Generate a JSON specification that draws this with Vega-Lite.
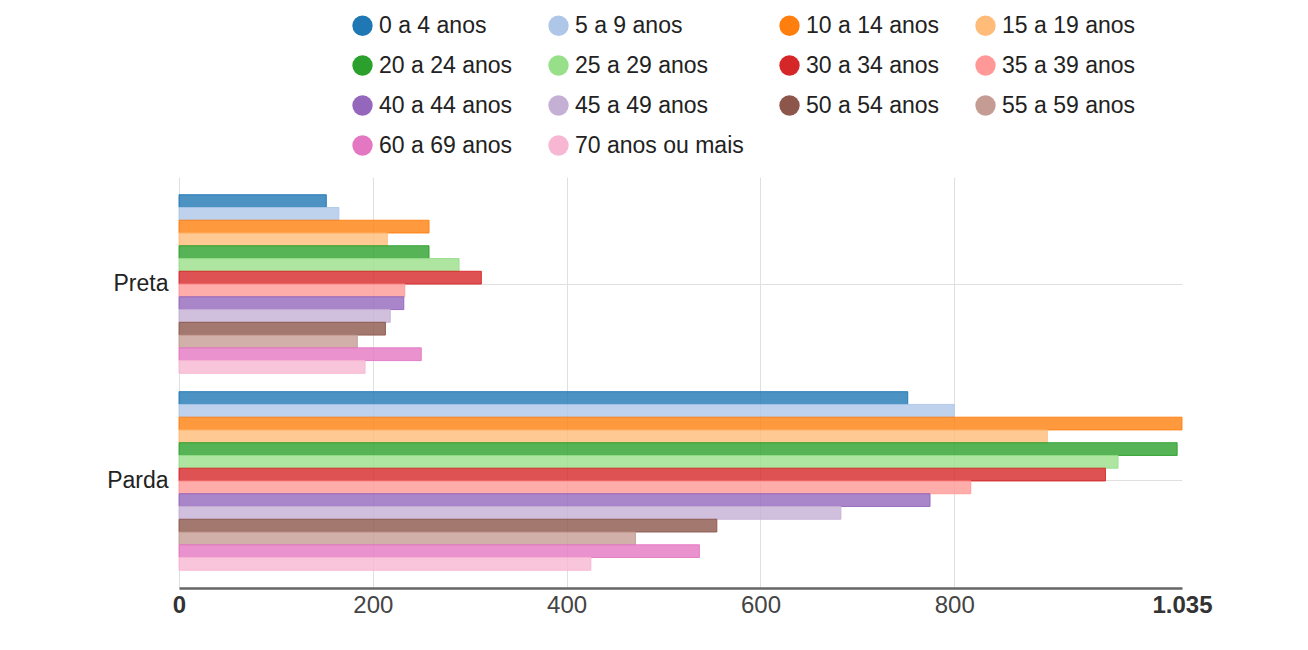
{
  "$schema": "https://vega.github.io/schema/vega-lite/v6.json",
  "width": 1003,
  "height": 411,
  "autosize": {"type": "none"},
  "padding": {"left": 179, "top": 177, "right": 126, "bottom": 62},
  "background": "white",
  "config": {"view": {"stroke": null}, "font": "Liberation Sans"},
  "data": {
    "values": [
      {"cor": "Preta", "idade": "0 a 4 anos", "valor": 152},
      {"cor": "Preta", "idade": "5 a 9 anos", "valor": 165},
      {"cor": "Preta", "idade": "10 a 14 anos", "valor": 258},
      {"cor": "Preta", "idade": "15 a 19 anos", "valor": 215},
      {"cor": "Preta", "idade": "20 a 24 anos", "valor": 258},
      {"cor": "Preta", "idade": "25 a 29 anos", "valor": 289},
      {"cor": "Preta", "idade": "30 a 34 anos", "valor": 312},
      {"cor": "Preta", "idade": "35 a 39 anos", "valor": 233},
      {"cor": "Preta", "idade": "40 a 44 anos", "valor": 232},
      {"cor": "Preta", "idade": "45 a 49 anos", "valor": 218},
      {"cor": "Preta", "idade": "50 a 54 anos", "valor": 213},
      {"cor": "Preta", "idade": "55 a 59 anos", "valor": 184},
      {"cor": "Preta", "idade": "60 a 69 anos", "valor": 250},
      {"cor": "Preta", "idade": "70 anos ou mais", "valor": 192},
      {"cor": "Parda", "idade": "0 a 4 anos", "valor": 752},
      {"cor": "Parda", "idade": "5 a 9 anos", "valor": 800},
      {"cor": "Parda", "idade": "10 a 14 anos", "valor": 1035},
      {"cor": "Parda", "idade": "15 a 19 anos", "valor": 896},
      {"cor": "Parda", "idade": "20 a 24 anos", "valor": 1030},
      {"cor": "Parda", "idade": "25 a 29 anos", "valor": 969},
      {"cor": "Parda", "idade": "30 a 34 anos", "valor": 956},
      {"cor": "Parda", "idade": "35 a 39 anos", "valor": 817},
      {"cor": "Parda", "idade": "40 a 44 anos", "valor": 775},
      {"cor": "Parda", "idade": "45 a 49 anos", "valor": 683},
      {"cor": "Parda", "idade": "50 a 54 anos", "valor": 555},
      {"cor": "Parda", "idade": "55 a 59 anos", "valor": 471},
      {"cor": "Parda", "idade": "60 a 69 anos", "valor": 537},
      {"cor": "Parda", "idade": "70 anos ou mais", "valor": 425}
    ]
  },
  "mark": {"type": "bar", "fillOpacity": 0.8, "strokeWidth": 1, "strokeOpacity": 0.9},
  "encoding": {
    "y": {
      "field": "cor",
      "type": "nominal",
      "sort": ["Preta", "Parda"],
      "scale": {"paddingInner": 0.093, "paddingOuter": 0.09},
      "axis": {
        "title": null,
        "domain": false,
        "ticks": false,
        "labelFontSize": 23,
        "labelColor": "#222222",
        "labelPadding": 11,
        "grid": true,
        "gridColor": "#e0e0e0",
        "bandPosition": 0.5
      }
    },
    "yOffset": {
      "field": "idade",
      "type": "nominal",
      "sort": ["0 a 4 anos", "5 a 9 anos", "10 a 14 anos", "15 a 19 anos", "20 a 24 anos", "25 a 29 anos", "30 a 34 anos", "35 a 39 anos", "40 a 44 anos", "45 a 49 anos", "50 a 54 anos", "55 a 59 anos", "60 a 69 anos", "70 anos ou mais"],
      "scale": {"paddingInner": 0, "paddingOuter": 0}
    },
    "x": {
      "field": "valor",
      "type": "quantitative",
      "scale": {"domain": [0, 1035], "nice": false, "zero": true},
      "axis": {
        "title": null,
        "values": [0, 200, 400, 600, 800, 1035],
        "labelExpr": "datum.value == 1035 ? '1.035' : datum.label",
        "labelFontSize": 24,
        "labelColor": {"condition": {"test": "datum.value == 0 || datum.value == 1035", "value": "#333333"}, "value": "#444444"},
        "labelFontWeight": {"condition": {"test": "datum.value == 0 || datum.value == 1035", "value": "bold"}, "value": "normal"},
        "labelPadding": 5,
        "labelBound": false,
        "labelFlush": false,
        "labelOverlap": false,
        "ticks": false,
        "domainColor": "#666666",
        "domainWidth": 2.5,
        "grid": true,
        "gridColor": {"condition": {"test": "datum.value == 1035", "value": "transparent"}, "value": "#e0e0e0"}
      }
    },
    "color": {
      "field": "idade",
      "type": "nominal",
      "scale": {
        "domain": ["0 a 4 anos", "5 a 9 anos", "10 a 14 anos", "15 a 19 anos", "20 a 24 anos", "25 a 29 anos", "30 a 34 anos", "35 a 39 anos", "40 a 44 anos", "45 a 49 anos", "50 a 54 anos", "55 a 59 anos", "60 a 69 anos", "70 anos ou mais"],
        "range": ["#1f77b4", "#aec7e8", "#ff7f0e", "#ffbb78", "#2ca02c", "#98df8a", "#d62728", "#ff9896", "#9467bd", "#c5b0d5", "#8c564b", "#c49c94", "#e377c2", "#f7b6d2"]
      },
      "legend": {
        "orient": "none",
        "direction": "horizontal",
        "legendX": 172,
        "legendY": -163,
        "columns": 4,
        "title": null,
        "symbolType": "circle",
        "symbolSize": 415,
        "symbolOpacity": 1,
        "symbolStrokeWidth": 0,
        "labelFontSize": 23,
        "labelColor": "#222222",
        "labelOffset": 5,
        "columnPadding": 34,
        "rowPadding": 16,
        "labelLimit": 300,
        "padding": 0
      }
    },
    "stroke": {
      "field": "idade",
      "type": "nominal",
      "scale": {
        "domain": ["0 a 4 anos", "5 a 9 anos", "10 a 14 anos", "15 a 19 anos", "20 a 24 anos", "25 a 29 anos", "30 a 34 anos", "35 a 39 anos", "40 a 44 anos", "45 a 49 anos", "50 a 54 anos", "55 a 59 anos", "60 a 69 anos", "70 anos ou mais"],
        "range": ["#1f77b4", "#aec7e8", "#ff7f0e", "#ffbb78", "#2ca02c", "#98df8a", "#d62728", "#ff9896", "#9467bd", "#c5b0d5", "#8c564b", "#c49c94", "#e377c2", "#f7b6d2"]
      },
      "legend": null
    }
  }
}
